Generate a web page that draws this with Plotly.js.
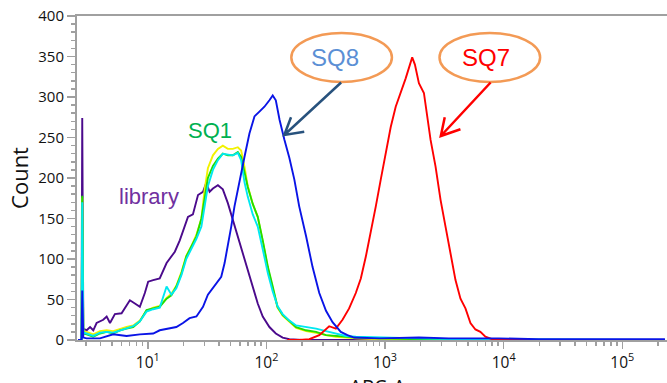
<!DOCTYPE html>
<html>
<head>
<meta charset="utf-8">
<script src="https://cdn.plot.ly/plotly-3.0.1.min.js"></script>
<style>
html,body{margin:0;padding:0;overflow:hidden;background:#fff;}
#chart{width:680px;height:420px;}
</style>
</head>
<body>
<div id="chart"></div>
<script>
// ---- data (APC-A intensity vs count) ----
const sq1X = [2.58,2.76,2.80,2.86,3.05,3.47,3.95,4.50,5.11,5.82,6.62,7.53,8.57,9.75,11.1,12.6,14.4,15.8,17.4,19.2,21.1,23.3,25.7,28.3,30.1,32.1,35.4,39.0,42.9,47.3,52.1,57.4,61.2,65.3,69.6,76.7,84.5,93.1,103,113,124,137,156,178,216,262,318,385,467,567,891,1930,4200,9080,229000];
const sq1YellowY = [0,0,176,11,10,7,11,12,11,14,16,18,24,36,40,42,52,57,67,84,104,116,130,150,185,212,228,236,240,236,236,238,234,214,190,168,152,122,88,64,40,30,22,15,11,9,6,4,3,2,1,1,0,0,0];
const sq1GreenY  = [0,0,178,8,7,4,8,10,8,12,14,16,23,37,39,41,51,55,66,82,103,115,128,150,177,200,215,224,230,228,228,232,226,206,189,168,152,123,90,66,41,31,23,16,12,10,6,5,4,3,2,1,1,0,0];
const sq1CyanY   = [0,0,170,9,8,5,9,10,9,12,14,17,23,35,38,40,66,56,64,80,100,112,125,140,165,190,210,222,230,229,228,231,222,195,177,155,140,112,82,60,42,32,24,18,16,14,11,8,5,4,3,2,1,1,0];

const libraryX = [2.58,2.76,2.80,2.86,3.05,3.26,3.47,3.70,4.21,4.50,4.80,5.28,6.01,6.41,7.06,7.78,8.57,9.44,10.07,11.1,12.6,14.4,15.8,16.9,18.6,20.5,21.8,24.0,26.5,29.2,31.1,33.2,35.4,39.0,42.9,47.3,52.1,57.4,63.2,69.6,76.7,84.5,93.1,106,120,137,156,200,229000];
const libraryY = [0,0,274,14,12,16,12,21,25,29,21,32,33,39,49,45,41,58,72,74,76,95,103,109,123,140,152,155,179,183,194,183,187,191,186,169,148,128,107,86,66,45,29,16,8,3,1,0,0];

const sq8X = [2.58,2.76,2.80,2.86,3.05,3.95,5.11,6.62,8.57,11.1,12.6,15.3,17.4,19.8,22.5,25.7,29.2,32.1,35.4,39.0,41.6,44.4,47.3,50.5,53.8,59.3,65.3,71.9,79.3,87.3,96.2,106,113,120,129,142,156,172,189,216,245,279,318,361,424,482,549,891,1930,3450,9080,19600,229000];
const sq8Y = [0,0,61,3,2,2,7,5,7,8,12,14,16,21,27,29,41,56,64,72,78,95,115,140,165,198,226,255,276,282,288,296,302,296,272,247,225,198,165,128,90,58,36,22,10,6,3,2,3,2,2,1,1];

const sq7X = [150,189,230,279,338,385,438,498,567,625,689,759,836,920,1014,1117,1230,1355,1493,1622,1695,1786,1930,2127,2266,2421,2667,2938,3236,3565,3927,4326,4765,5249,5782,6369,7015,7980,9080,229000];
const sq7Y = [0,0,1,6,17,14,25,39,58,76,103,132,165,198,230,263,288,305,323,340,349,340,317,305,276,247,214,173,140,107,74,51,39,21,13,10,4,1,0,0];

const xTickVals = [10,100,1000,10000,100000];
const xTickText = ['10<sup>1</sup>','10<sup>2</sup>','10<sup>3</sup>','10<sup>4</sup>','10<sup>5</sup>'];
const xMinorVals = [3,4,5,6,7,8,9,20,30,40,50,60,70,80,90,200,300,400,500,600,700,800,900,2000,3000,4000,5000,6000,7000,8000,9000,20000,30000,40000,50000,60000,70000,80000,90000,200000];

const labels = {sq1:'SQ1', library:'library', sq8:'SQ8', sq7:'SQ7'};

// ---- traces ----
function line(x, y, color, name){
  return {x:x, y:y, type:'scatter', mode:'lines', name:name,
          line:{color:color, width:1.9}, hoverinfo:'skip'};
}
const traces = [
  line(libraryX, libraryY, '#4B0A8C', 'library'),
  line(sq1X, sq1YellowY, '#F2F200', 'SQ1 a'),
  line(sq1X, sq1GreenY, '#22DD00', 'SQ1 b'),
  line(sq1X, sq1CyanY, '#00E8F0', 'SQ1 c'),
  line(sq7X, sq7Y, '#FF0000', 'SQ7'),
  line(sq8X, sq8Y, '#0A14E6', 'SQ8')
];

const axisGray = '#A0A0A0';
const orange = '#F39A55';
const fam = 'Open Sans, DejaVu Sans, sans-serif';

const layout = {
  width:680, height:420,
  margin:{l:77, r:0, t:16, b:80},
  paper_bgcolor:'#fff', plot_bgcolor:'#fff',
  showlegend:false,
  font:{family:fam, color:'#111'},
  xaxis:{
    type:'log', range:[0.403, 5.470],
    showgrid:false, zeroline:false,
    showline:true, linecolor:axisGray, linewidth:2, mirror:true,
    ticks:'outside', ticklen:7, tickwidth:1.5, tickcolor:axisGray,
    tickmode:'array', tickvals:xTickVals, ticktext:xTickText,
    tickfont:{size:15.5, family:fam, color:'#111'},
    minor:{tickmode:'array', tickvals:xMinorVals, ticks:'outside', ticklen:4, tickwidth:1.5, tickcolor:axisGray, showgrid:false},
    title:{text:'APC-A', font:{size:20, family:fam, color:'#111'}, standoff:0},
    automargin:true
  },
  yaxis:{
    range:[0,400],
    showgrid:false, zeroline:false,
    showline:true, linecolor:axisGray, linewidth:2, mirror:true,
    ticks:'outside', ticklen:8, tickwidth:1.5, tickcolor:axisGray,
    dtick:50, tick0:0,
    tickfont:{size:15, family:fam, color:'#111'},
    minor:{dtick:10, ticks:'outside', ticklen:4, tickwidth:1.5, tickcolor:axisGray, showgrid:false},
    title:{text:'Count', font:{size:22, family:fam, color:'#111'}, standoff:4},
    automargin:true
  },
  shapes:[
    {type:'circle', xref:'paper', yref:'paper', x0:0.3566, x1:0.5240, y0:0.7963, y1:0.9475, line:{color:orange, width:2.5}},
    {type:'circle', xref:'paper', yref:'paper', x0:0.6032, x1:0.7706, y0:0.7963, y1:0.9475, line:{color:orange, width:2.5}},
    {type:'path', xref:'paper', yref:'paper', path:'M 0.4395,0.7948 L 0.3449,0.6327 M 0.3781,0.6429 L 0.3449,0.6327 L 0.3561,0.6873', line:{color:'#28527D', width:2.5}},
    {type:'path', xref:'paper', yref:'paper', path:'M 0.6882,0.7948 L 0.6053,0.6296 M 0.6380,0.6503 L 0.6053,0.6296 L 0.6119,0.6873', line:{color:'#FF0000', width:2.5}}
  ],
  annotations:[
    {xref:'paper', yref:'paper', x:0.4295, y:0.8704, text:labels.sq8, showarrow:false, xanchor:'center', yanchor:'middle', font:{family:'Liberation Sans, Arial, sans-serif', size:24, color:'#5B8FD5'}},
    {xref:'paper', yref:'paper', x:0.6799, y:0.8704, text:labels.sq7, showarrow:false, xanchor:'center', yanchor:'middle', font:{family:'Liberation Sans, Arial, sans-serif', size:24, color:'#FF0000'}},
    {xref:'paper', yref:'paper', x:0.2206, y:0.6481, text:labels.sq1, showarrow:false, xanchor:'center', yanchor:'middle', font:{family:'Liberation Sans, Arial, sans-serif', size:22, color:'#00B050'}},
    {xref:'paper', yref:'paper', x:0.1194, y:0.4444, text:labels.library, showarrow:false, xanchor:'center', yanchor:'middle', font:{family:'Liberation Sans, Arial, sans-serif', size:22, color:'#7030A0'}}
  ]
};

Plotly.newPlot('chart', traces, layout, {displayModeBar:false, staticPlot:true});
</script>
</body>
</html>
